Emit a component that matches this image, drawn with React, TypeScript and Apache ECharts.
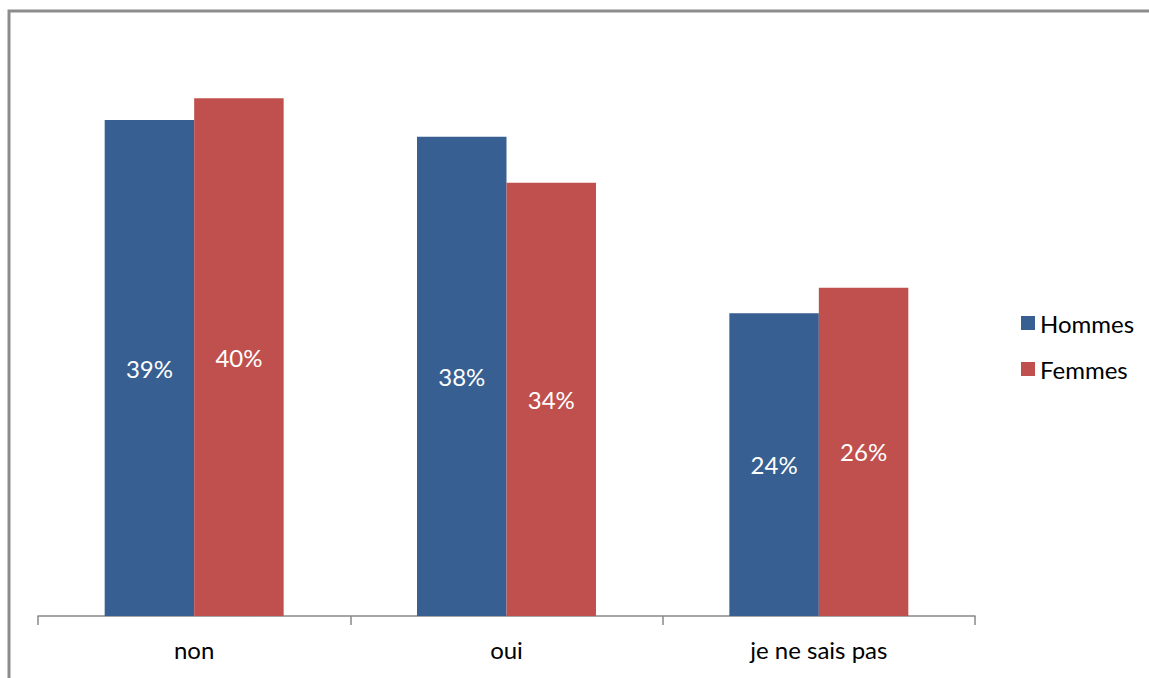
import React, { useEffect, useRef } from "react";
import * as echarts from "echarts";

const categories = ["non", "oui", "je ne sais pas"];
const hommes = [38.75, 37.45, 23.65];
const femmes = [40.45, 33.85, 25.65];
const hommesLabels = ["39%", "38%", "24%"];
const femmesLabels = ["40%", "34%", "26%"];
const seriesNames = ["Hommes", "Femmes"];
const colors = ["#375F91", "#C0504D"];

export default function App() {
  const ref = useRef<HTMLDivElement>(null);
  useEffect(() => {
    const chart = echarts.init(ref.current!, null, { renderer: "svg" });
    const font = "Lato, 'Open Sans', sans-serif";
    const mkLabel = (texts: string[]) => ({
      show: true,
      position: "inside",
      color: "#fff",
      fontSize: 24,
      fontFamily: font,
      formatter: (p: any) => texts[p.dataIndex],
    });
    chart.setOption({
      animation: false,
      backgroundColor: "#fff",
      graphic: [
        {
          type: "rect",
          shape: { x: 9, y: 11, width: 1200, height: 700 },
          style: { fill: "none", stroke: "#8c8c8c", lineWidth: 3 },
          z: 10,
        },
      ],
      legend: {
        orient: "vertical",
        left: 1016,
        top: 306,
        itemWidth: 14,
        itemHeight: 14,
        itemGap: 22,
        icon: "rect",
        textStyle: { fontSize: 24, fontFamily: font, color: "#000" },
        data: seriesNames,
      },
      grid: { left: 38, right: 174, top: 40, bottom: 62 },
      xAxis: {
        type: "category",
        data: categories,
        axisLine: { lineStyle: { color: "#888", width: 1.5 } },
        axisTick: { show: true, length: 9, lineStyle: { color: "#888", width: 1.5 } },
        axisLabel: { fontSize: 24, fontFamily: font, color: "#000", margin: 21 },
      },
      yAxis: {
        type: "value",
        min: 0,
        max: 45,
        show: false,
        splitLine: { show: false },
      },
      series: [
        {
          name: seriesNames[0],
          type: "bar",
          data: hommes,
          itemStyle: { color: colors[0] },
          barGap: "0%",
          barCategoryGap: "42.7%",
          label: mkLabel(hommesLabels),
        },
        {
          name: seriesNames[1],
          type: "bar",
          data: femmes,
          itemStyle: { color: colors[1] },
          barGap: "0%",
          barCategoryGap: "42.7%",
          label: mkLabel(femmesLabels),
        },
      ],
    });
    return () => chart.dispose();
  }, []);
  return (
    <div
      ref={ref}
      style={{ position: "fixed", left: 0, top: 0, width: 1149, height: 678 }}
    />
  );
}
